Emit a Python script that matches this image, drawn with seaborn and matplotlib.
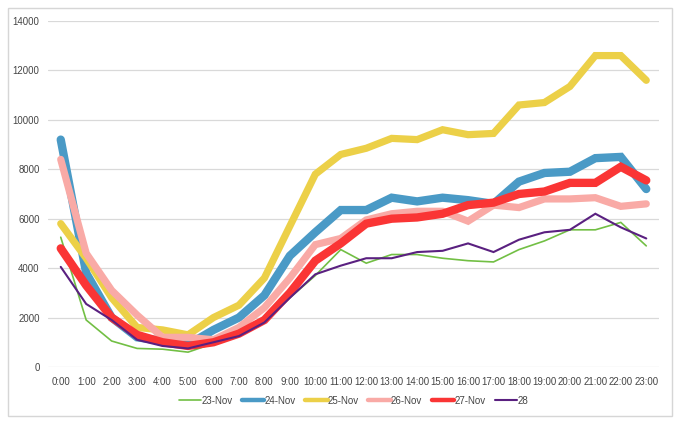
import pandas as pd
import matplotlib.pyplot as plt
import seaborn as sns
from matplotlib.patches import Rectangle

# ---------------------------------------
# Data
# ---------------------------------------
hours = [f"{h}:00" for h in range(24)]

nov23 = [5250, 1900, 1050, 750, 720, 600, 950, 1300, 1850, 2800, 3700, 4750,
         4200, 4550, 4550, 4400, 4300, 4250, 4750, 5100, 5550, 5550, 5850, 4900]
nov24 = [9200, 3800, 2000, 1200, 1050, 900, 1500, 2000, 2900, 4500, 5450, 6350,
         6350, 6850, 6700, 6850, 6750, 6600, 7500, 7850, 7900, 8450, 8500, 7200]
nov25 = [5800, 4400, 2800, 1600, 1500, 1300, 2000, 2500, 3600, 5700, 7800, 8600,
         8850, 9250, 9200, 9600, 9400, 9450, 10600, 10700, 11350, 12600, 12600, 11600]
nov26 = [8400, 4600, 3100, 2100, 1200, 1200, 1100, 1600, 2400, 3600, 4950, 5200,
         5950, 6200, 6300, 6300, 5900, 6550, 6450, 6800, 6800, 6850, 6500, 6600]
nov27 = [4800, 3300, 2000, 1300, 1000, 850, 1000, 1350, 1900, 3000, 4300, 5000,
         5800, 6000, 6050, 6200, 6550, 6650, 7000, 7100, 7450, 7450, 8100, 7550]
day28 = [4050, 2550, 1900, 1100, 850, 750, 1000, 1250, 1800, 2800, 3750, 4100,
         4400, 4400, 4650, 4700, 5000, 4650, 5150, 5450, 5550, 6200, 5650, 5200]

series = {
    '23-Nov': nov23,
    '24-Nov': nov24,
    '25-Nov': nov25,
    '26-Nov': nov26,
    '27-Nov': nov27,
    '28': day28,
}
colors = ['#72bf44', '#4a9ac6', '#ecd048', '#f9aaa6', '#fa3535', '#5a2080']
widths = [1.2, 6.0, 5.2, 5.2, 6.0, 1.5]
legend_widths = [1.2, 3.2, 3.2, 3.2, 3.2, 1.5]

sns.set_style("white")
plt.rcParams['font.family'] = ['Liberation Sans', 'DejaVu Sans']

fig = plt.figure(figsize=(6.8, 4.24), dpi=100)
ax = fig.add_axes([0.0706, 0.1345, 0.8985, 0.8160])

# ---------------------------------------
# Lines
# ---------------------------------------
for (name, vals), c, lw in zip(series.items(), colors, widths):
    df = pd.DataFrame({'x': range(len(hours)), 'y': vals})
    sns.lineplot(data=df, x='x', y='y', ax=ax, color=c, linewidth=lw,
                 label=name, solid_capstyle='round', solid_joinstyle='miter')

ax.set_xlim(-0.5, len(hours) - 0.5)
ax.set_ylim(0, 14000)
ax.set_xticks(range(len(hours)))
ax.set_xticklabels(hours)
ax.set_yticks(range(0, 14001, 2000))
ax.tick_params(axis='both', length=0, labelsize=6.9, labelcolor='#444444')
ax.tick_params(axis='x', pad=7)
ax.tick_params(axis='y', pad=6)
ax.grid(axis='y', color='#d9d9d9', linewidth=0.9)
ax.set_axisbelow(True)
for s in ax.spines.values():
    s.set_visible(False)
ax.set_xlabel('')
ax.set_ylabel('')

leg = ax.legend(loc='center', bbox_to_anchor=(0.5, -0.098), ncol=6, frameon=False,
                fontsize=7.0, handlelength=2.3, handletextpad=0.0,
                columnspacing=1.0)
for t in leg.get_texts():
    t.set_color('#444444')
for h, lw in zip(leg.get_lines(), legend_widths):
    h.set_linewidth(lw)
    h.set_solid_capstyle('round')

# border around the figure
fig.patches.append(Rectangle((8 / 680, 8 / 424), 664 / 680, 408 / 424,
                             transform=fig.transFigure, fill=False,
                             edgecolor='#d6d6d6', linewidth=1.0))

plt.savefig('out.png', dpi=100)
